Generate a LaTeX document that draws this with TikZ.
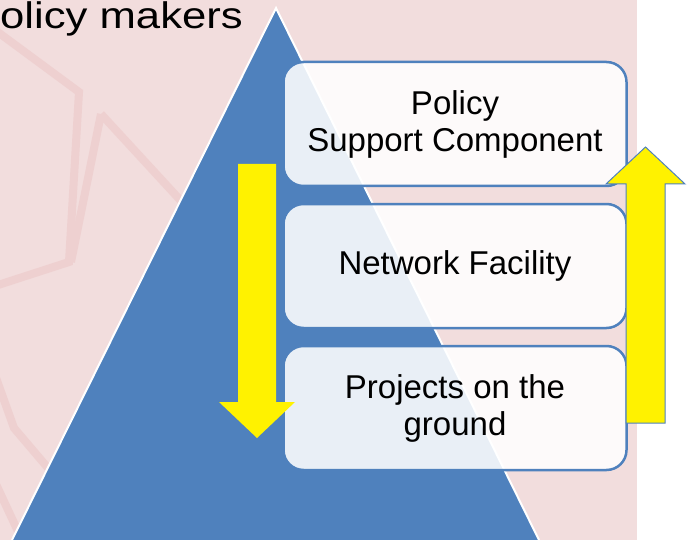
\documentclass[tikz,border=0pt]{standalone}
\usepackage{fontspec}
\setmainfont{Liberation Sans}
\usetikzlibrary{backgrounds}
\definecolor{pyrblue}{RGB}{79,129,189}
\definecolor{slidepink}{RGB}{242,221,221}
\definecolor{markpink}{RGB}{238,208,208}
\newcommand{\boxline}{2.5pt}
\newcommand{\boxfont}{\fontsize{33}{37}\selectfont}
\newcommand{\titlefont}{\fontsize{37}{41}\selectfont}

\begin{document}
\begin{tikzpicture}[x=1pt,y=-1pt,
  stage/.style={draw=pyrblue, line width=\boxline, rounded corners=20pt,
    fill=white, fill opacity=0.88, text opacity=1, inner sep=0pt,
    minimum width=343pt, minimum height=124pt, align=center, font=\boxfont},
  wmark/.style={draw=markpink, line width=8pt}]
\useasboundingbox (0,0) rectangle (690,540);
%slide
\begin{scope}[on background layer]
\fill[white] (0,0) rectangle (690,540);
\fill[slidepink] (0,0) rectangle (637,540);
\draw[wmark] (-5,30) -- (79,92) -- (69,262) -- (-5,286);
\draw[wmark] (101,114) -- (182,202);
\draw[wmark] (101,114) -- (71,262);
\draw[wmark] (-5,375) -- (14,428) -- (48,468);
\draw[wmark] (-5,482) -- (22,540);
\fill[pyrblue] (276,8) -- (539,540) -- (12,540) -- cycle;
\draw[white, line width=2pt] (12,540) -- (276,8) -- (539,540);
\end{scope}
%title
\node[anchor=base west, inner sep=0pt, font=\titlefont] (title) at (0,28.5) {\scalebox{1.18}[1]{olicy makers}};
%stages
\node[stage] (1) at (455,124) {Policy\\Support Component};
\node[stage] (2) at (455,266) {Network Facility};
\node[stage] (3) at (455,408) {Projects on the\\ground};
%arrows
\fill[yellow] (238,164) -- (276,164) -- (276,402) -- (295,402) -- (257,438) -- (219,402) -- (238,402) -- cycle;
\filldraw[fill=yellow, draw=pyrblue, line width=1pt] (626,423) -- (665,423) -- (665,184) -- (685,184) -- (645.5,147) -- (606,184) -- (626,184) -- cycle;
\end{tikzpicture}
\end{document}
